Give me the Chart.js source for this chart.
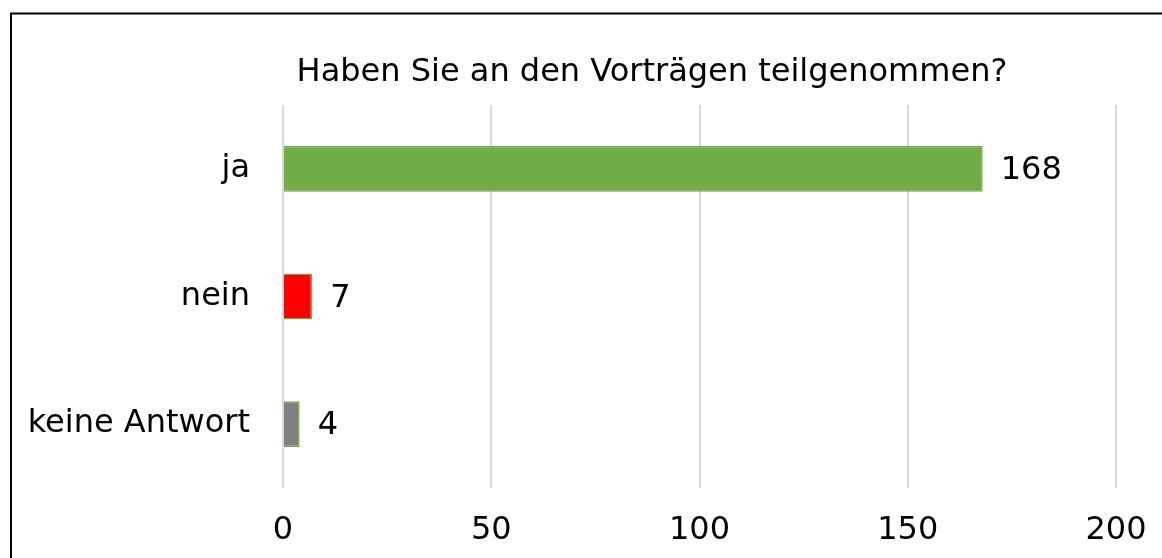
<!DOCTYPE html>
<html>
<head>
<meta charset="utf-8">
<script src="https://cdn.jsdelivr.net/npm/chart.js@4/dist/chart.umd.min.js"></script>
<style>
  body { margin: 0; background: #fff; }
</style>
</head>
<body>
<canvas id="chart" width="1162" height="558"></canvas>
<script>
const titleText = 'Haben Sie an den Vorträgen teilgenommen?';
const categories = ['ja', 'nein', 'keine Antwort'];
const values = [168, 7, 4];
const barColors = ['#70AD47', '#FF0000', '#808080'];
const xTicks = [0, 50, 100, 150, 200];

const FONT = '"DejaVu Sans", Verdana, sans-serif';

// outer frame of the chart + shift title so it sits where the original one does
const framePlugin = {
  id: 'frame',
  afterLayout(chart) {
    chart.titleBlock.left = 188;
    chart.titleBlock.right = 1116;
  },
  afterDraw(chart) {
    const c = chart.ctx;
    c.save();
    c.strokeStyle = '#000';
    c.lineWidth = 2;
    c.strokeRect(11, 13.5, 1200, 600);
    c.restore();
  }
};

// value labels at the end of each bar
const valueLabels = {
  id: 'valueLabels',
  afterDatasetsDraw(chart) {
    const c = chart.ctx;
    const meta = chart.getDatasetMeta(0);
    c.save();
    c.font = '32px ' + FONT;
    c.fillStyle = '#000';
    c.textAlign = 'left';
    c.textBaseline = 'middle';
    meta.data.forEach((bar, i) => {
      c.fillText(String(values[i]), bar.x + 18, bar.y + 2);
    });
    c.restore();
  }
};

const ctx = document.getElementById('chart').getContext('2d');
new Chart(ctx, {
  type: 'bar',
  data: {
    labels: categories,
    datasets: [{
      data: values,
      backgroundColor: barColors,
      borderColor: '#70AD47',
      borderWidth: 1.5,
      categoryPercentage: 0.8,
      barPercentage: 0.45
    }]
  },
  options: {
    indexAxis: 'y',
    responsive: false,
    animation: false,
    layout: { padding: { left: 0, right: 46, top: 0, bottom: 0 } },
    plugins: {
      legend: { display: false },
      tooltip: { enabled: false },
      title: {
        display: true,
        text: titleText,
        color: '#000',
        font: { family: FONT, size: 32, weight: 'normal', lineHeight: 1.2 },
        padding: { top: 53, bottom: 13.6 }
      }
    },
    scales: {
      x: {
        min: 0,
        max: 200,
        afterBuildTicks(scale) {
          scale.ticks = xTicks.map(v => ({ value: v }));
        },
        afterFit(scale) {
          scale.height = 70;
          scale.paddingRight = 0;
          scale.paddingLeft = 0;
        },
        grid: { color: '#d9d9d9', lineWidth: 2, drawTicks: false },
        border: { display: false },
        ticks: {
          color: '#000',
          padding: 23,
          maxRotation: 0,
          font: { family: FONT, size: 32 }
        }
      },
      y: {
        afterFit(scale) { scale.width = 283; },
        grid: { display: false, drawTicks: false },
        border: { display: false },
        ticks: {
          color: '#000',
          padding: 33,
          font: { family: FONT, size: 32 }
        }
      }
    }
  },
  plugins: [framePlugin, valueLabels]
});
</script>
</body>
</html>
